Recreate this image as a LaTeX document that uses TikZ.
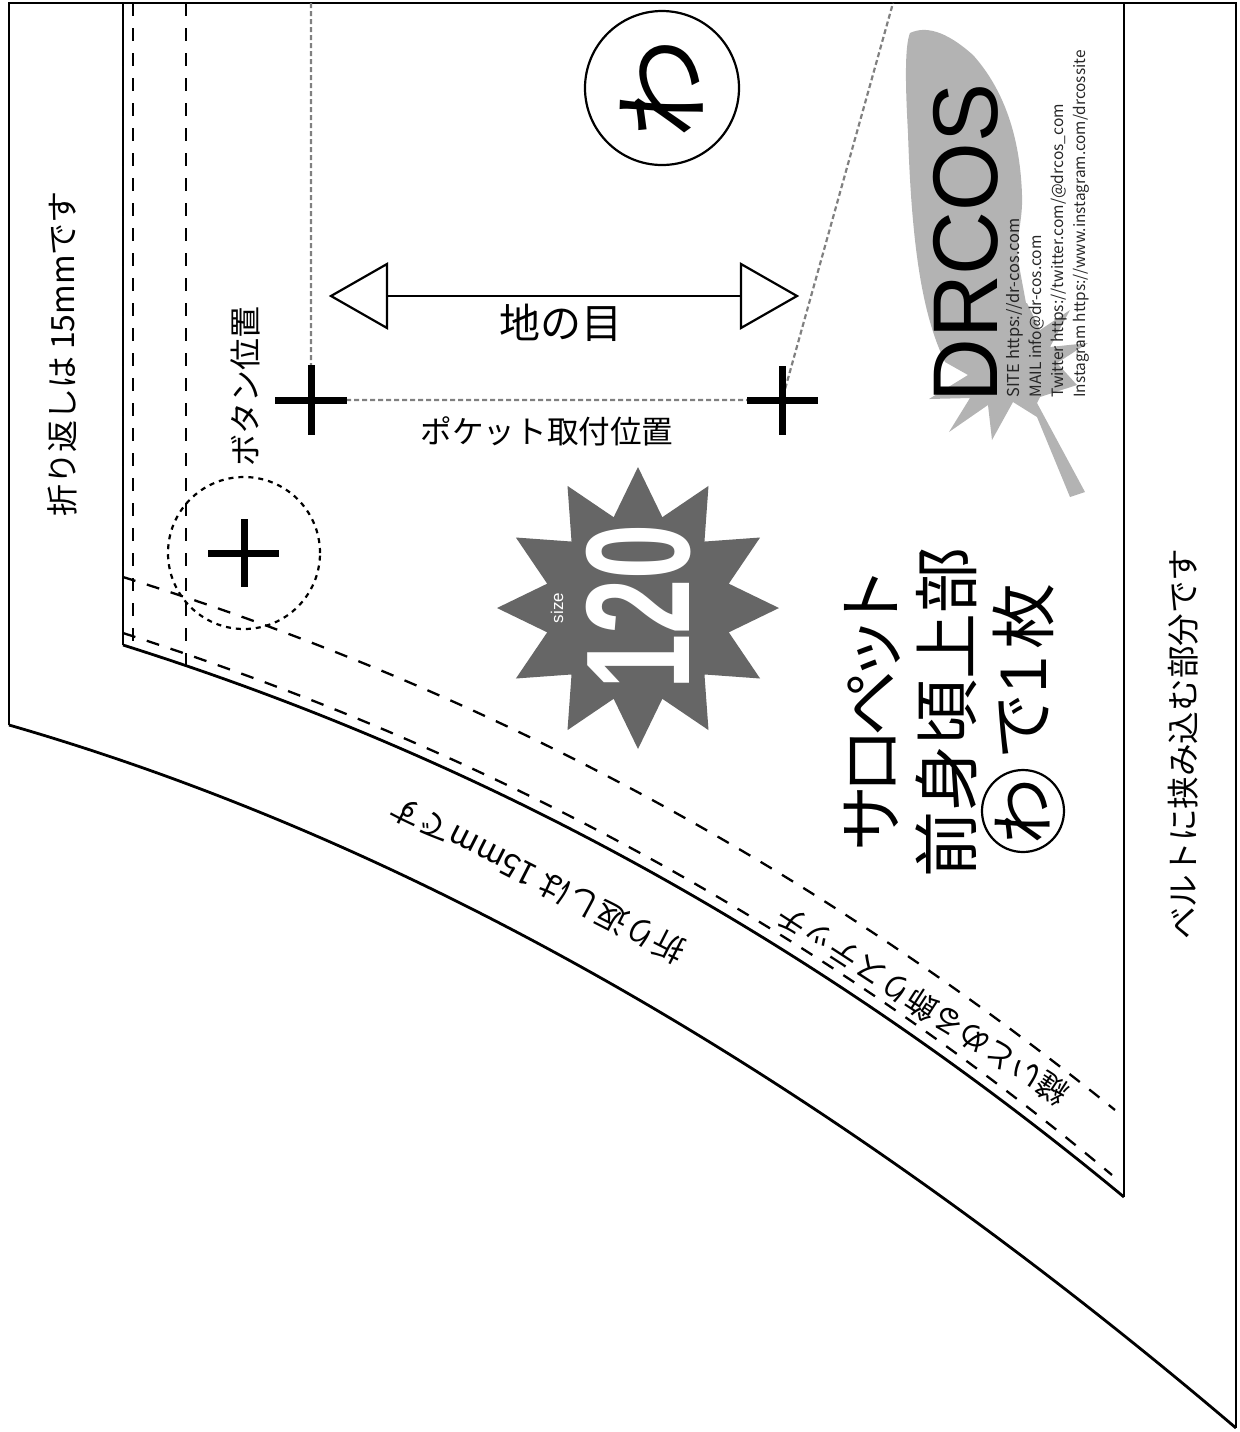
\documentclass[tikz,border=0pt]{standalone}
\usepackage{fontspec}
\setmainfont{Noto Sans CJK JP}
\newfontfamily\arialf{Liberation Sans}
\definecolor{feather}{HTML}{B3B3B3}
\definecolor{stargray}{HTML}{666666}
\definecolor{guide}{HTML}{808080}
\tikzset{
  outline/.style={line width=1.4pt,black},
  stitch/.style={line width=1.15pt,black,dash pattern=on 6.5pt off 6pt},
  guideline/.style={line width=1.1pt,guide,dash pattern=on 2.5pt off 1.5pt},
  crossmark/.style={line width=3.5pt,black},
  lbl/.style={inner sep=0pt,font=\fontsize{16}{16}\selectfont},
  big/.style={inner sep=0pt,font=\fontsize{33}{33}\selectfont,rotate=90},
  web/.style={inner sep=0pt,rotate=90,anchor=west,text=black!85},
}
\begin{document}
\begin{tikzpicture}[x=0.5pt,y=-0.5pt]
\useasboundingbox (0,0) rectangle (1239,1432);
% feather
\fill[feather] (910,33) .. controls (925,26) and (945,30) .. (973,55)
  .. controls (1000,85) and (1020,130) .. (1022,195)
  .. controls (1023,220) and (1016,235) .. (1018,260)
  -- (1026,303) -- (1027,303) -- (1040,330) -- (1070,310) -- (1050,347) -- (1088,343) -- (1057,363) -- (1077,385) -- (1040,397)
  -- (1037,403) -- (1085,492) -- (1070,497) -- (1037,417) -- (1013,402) -- (992,440) -- (988,405) -- (949,432) -- (970,398) -- (929,399) -- (968,375) -- (945,362)
  .. controls (925,320) and (912,260) .. (908,133)
  .. controls (905,80) and (905,45) .. (910,33) -- cycle;
% outer outline
\draw[outline] (9,725) -- (9,3) -- (1236,3) -- (1236,1428);
\draw[outline] (9,725) .. controls (418,843) and (827,1080) .. (1236,1428);
% inner outline
\draw[outline] (123,3) -- (123,645);
\draw[outline] (1124,3) -- (1124,1197);
\draw[outline] (123,645) .. controls (456,750) and (789,920) .. (1124,1197);
% stitches
\draw[stitch] (133,3) -- (133,648);
\draw[stitch] (186,3) -- (186,666);
\draw[stitch] (123,577) .. controls (453,680) and (784,843) .. (1115,1110);
\draw[stitch] (123,633) .. controls (452,739) and (782,900) .. (1112,1175);
% guides
\coordinate (pa) at (311,400);
\coordinate (pb) at (782,400);
\coordinate (ta) at (311,3);
\coordinate (tb) at (893,3);
\draw[guideline] (ta) -- (pa) -- (pb) -- (tb);
% crosses
\draw[crossmark] (275,400) -- (347,400) (311,365) -- (311,435);
\draw[crossmark] (747,400) -- (818,400) (782,366) -- (782,435);
\draw[crossmark] (208,553) -- (279,553) (244,519) -- (244,587);
\node[circle,draw,minimum size=152*0.5pt,inner sep=0pt,line width=1.1pt,dash pattern=on 2.5pt off 2.5pt] (btn) at (244,553) {};
% grain arrow
\coordinate (ga) at (387,296);
\coordinate (gb) at (741,296);
\draw[line width=1.1pt] (ga) -- (gb);
\draw[line width=1.1pt,fill=white] (387,264) -- (331,296) -- (387,328) -- cycle;
\draw[line width=1.1pt,fill=white] (741,264) -- (797,296) -- (741,328) -- cycle;
\node[inner sep=0pt,font=\fontsize{20.5}{20.5}\selectfont] (grain) at (561,323) {地の目};
\node[lbl,font=\fontsize{15.8}{15.8}\selectfont] (pocket) at (547,431) {ポケット取付位置};
\node[lbl,rotate=90] (button) at (245,386) {ボタン位置};
\node[lbl,rotate=90] (fold1) at (62,354) {折り返しは 15mmです};
\node[lbl,rotate=90,font=\fontsize{16.3}{16.3}\selectfont] (belt) at (1183,744) {ベルトに挟み込む部分です};
\node[lbl,rotate=153] (fold2) at (538,880) {折り返しは 15mmです};
\node[lbl,rotate=147,font=\fontsize{15.5}{15.5}\selectfont] (deco) at (922,1005) {縫いとめる飾りステッチ};
% big wa
\node[circle,draw,line width=1.1pt,minimum size=154*0.5pt,inner sep=0pt] (wa) at (662,88) {};
\node[inner sep=0pt,rotate=90,font=\fontsize{50}{50}\selectfont] (watext) at (662,88) {わ};
% star
\fill[stargray] plot[samples at={0,15,...,345}] ({638+(mod(\x,30)==0?141:94)*cos(\x)},{608+(mod(\x,30)==0?141:94)*sin(\x)}) -- cycle;
\node[inner sep=0pt,text=white,rotate=90,font=\arialf\bfseries\fontsize{74}{74}\selectfont] (num) at (639,607) {\scalebox{0.67}[1]{120}};
\node[inner sep=0pt,text=white,rotate=90,font=\arialf\fontsize{8.5}{8.5}\selectfont] (size) at (557,608) {size};
% titles
\node[big] (t1) at (872,709) {サ\kern-5pt ロ\kern-4pt ペ\kern-6pt ッ\kern-8pt ト};
\node[big] (t2) at (946,712) {前身頃上部};
\node[circle,draw,line width=1.1pt,minimum size=82*0.5pt,inner sep=0pt] (cw) at (1023,811) {};
\node[big] (cwt) at (1023,811) {わ};
\node[big] (de) at (1024,726) {で};
\node[big,font=\arialf\fontsize{33}{33}\selectfont] (one) at (1024,675) {1};
\node[big] (mai) at (1024,616) {枚};
% logo
\node[inner sep=0pt,rotate=90,anchor=west,font=\arialf\fontsize{46}{46}\selectfont] (logo) at (966,403) {\scalebox{0.96}[1]{DRCOS}};
\node[web,font=\fontsize{8.2}{8.2}\selectfont] (s1) at (1015,398) {SITE https://dr-cos.com};
\node[web,font=\fontsize{7.8}{7.8}\selectfont] (s2) at (1037,398) {MAIL info@dr-cos.com};
\node[web,font=\fontsize{7.8}{7.8}\selectfont] (s3) at (1059,398) {Twitter https://twitter.com/@drcos\_com};
\node[web,font=\fontsize{7.7}{7.7}\selectfont] (s4) at (1081,398) {Instagram https://www.instagram.com/drcossite};
\end{tikzpicture}
\end{document}
